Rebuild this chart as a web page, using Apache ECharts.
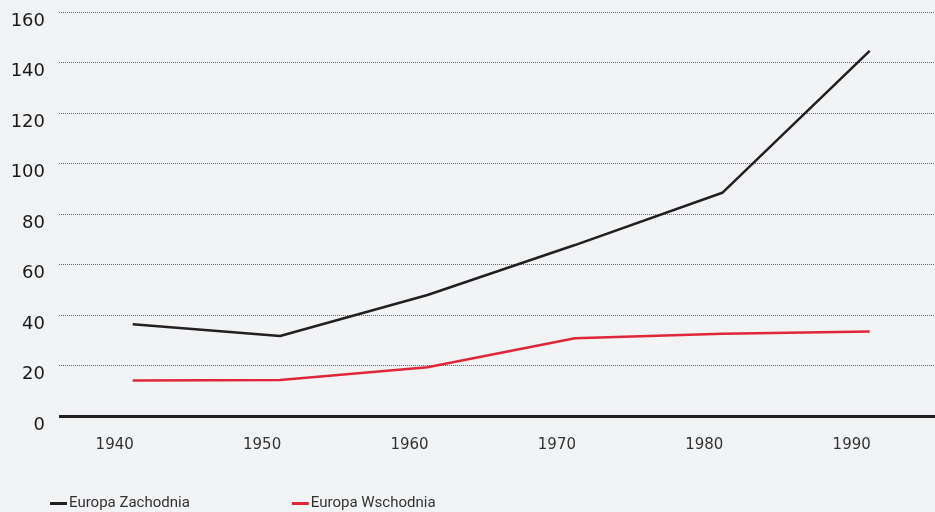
<!DOCTYPE html>
<html><head><meta charset="utf-8">
<script src="https://cdn.jsdelivr.net/npm/echarts@6/dist/echarts.min.js"></script>
<style>html,body{margin:0;padding:0;background:#f2f3f5}#c{width:935px;height:512px}</style>
</head><body><div id="c"></div>
<script>
const years = [1940, 1950, 1960, 1970, 1980, 1990];
const zachodnia = [36.3, 31.7, 47.9, 67.7, 88.4, 144.6];
const wschodnia = [14.1, 14.3, 19.3, 30.8, 32.6, 33.5];
const seriesNames = ['Europa Zachodnia','Europa Wschodnia'];
const pair = arr => arr.map((v,i)=>[years[i], v]);
const chart = echarts.init(document.getElementById('c'));
chart.setOption({
  backgroundColor:'#f2f3f5',
  animation:false,
  grid:{left:59,right:0,top:12,bottom:96,containLabel:false},
  legend:{
    left:45,top:491,itemWidth:17,itemHeight:3,itemGap:102,icon:'rect',
    textStyle:{fontFamily:'Roboto',fontSize:15,color:'#333',padding:[0,0,0,-3]},
    data:seriesNames
  },
  xAxis:{
    type:'value',min:1935,max:1994.43,
    axisLine:{show:false},axisTick:{show:false},splitLine:{show:false},
    axisLabel:{customValues:years,showMinLabel:true,showMaxLabel:true,hideOverlap:false,fontFamily:'DejaVu Sans',fontSize:15,color:'#333',margin:22,padding:[0,36,0,0],formatter:v=>String(v)}
  },
  yAxis:{
    type:'value',min:0,max:160,interval:20,
    axisLine:{show:false},axisTick:{show:false},
    axisLabel:{fontFamily:'DejaVu Sans',fontSize:18,color:'#1a1a1a',margin:14,verticalAlign:'top',lineHeight:18},
    splitLine:{show:true,lineStyle:{color:'#666',type:[1,1],width:1}}
  },
  series:[
    {name:seriesNames[0],type:'line',data:pair(zachodnia),symbol:'none',color:'#231f20',lineStyle:{color:'#231f20',width:2.5},
     markLine:{silent:true,symbol:'none',label:{show:false},lineStyle:{color:'#231f20',width:3,type:'solid'},data:[{yAxis:0}]}},
    {name:seriesNames[1],type:'line',data:pair(wschodnia),symbol:'none',color:'#e0263a',lineStyle:{color:'#e0263a',width:2.5}}
  ]
});
</script></body></html>
